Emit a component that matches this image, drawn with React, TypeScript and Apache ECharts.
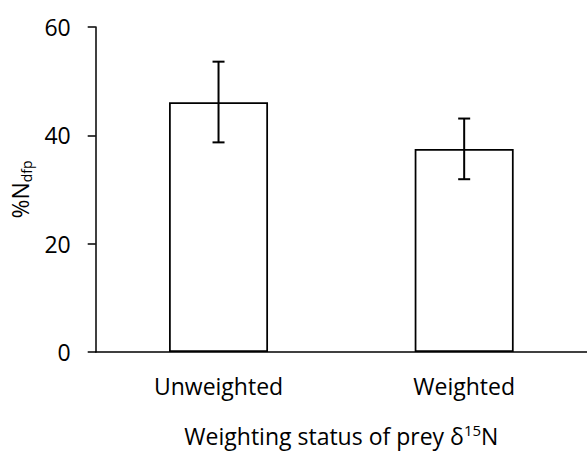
import React, { useEffect, useRef } from "react";
import * as echarts from "echarts";

const categories = ["Unweighted", "Weighted"];
const means = [46.1, 37.5];
const errLow = [38.7, 31.9];
const errHigh = [53.6, 43.1];
const yTicks = { min: 0, max: 60, interval: 20 };

const FONT = "'Open Sans', sans-serif";

export default function App() {
  const ref = useRef<HTMLDivElement>(null);
  useEffect(() => {
    if (!ref.current) return;
    const chart = echarts.init(ref.current, null, { renderer: "svg" });
    const errData = categories.map((_, i) => [i, errLow[i], errHigh[i]]);
    chart.setOption({
      animation: false,
      backgroundColor: "#fff",
      grid: { left: 90, top: 27, width: 500, height: 328 },
      xAxis: {
        type: "category",
        data: categories,
        axisLine: { show: true, lineStyle: { color: "#000", width: 1.5 } },
        axisTick: { show: false },
        axisLabel: { color: "#000", fontSize: 23, fontFamily: FONT, margin: 22 },
        name: "{a|Weighting status of prey δ}{sup|15}{a|N}",
        nameLocation: "middle",
        nameGap: 70,
        nameTextStyle: {
          rich: {
            a: { fontSize: 23, fontFamily: FONT, color: "#000", lineHeight: 27 },
            sup: { fontSize: 15, fontFamily: FONT, color: "#000", verticalAlign: "top", lineHeight: 27 },
          },
        },
      },
      yAxis: {
        type: "value",
        min: yTicks.min,
        max: yTicks.max,
        interval: yTicks.interval,
        splitLine: { show: false },
        axisLine: { show: true, lineStyle: { color: "#000", width: 1.5 } },
        axisTick: { show: true, inside: false, length: 8, lineStyle: { color: "#000", width: 1.5 } },
        axisLabel: { color: "#000", fontSize: 23, fontFamily: FONT, margin: 25 },
        name: "{n|%N}{sub|dfp}",
        nameLocation: "middle",
        nameRotate: 90,
        nameGap: 50,
        nameTextStyle: {
          rich: {
            n: { fontSize: 23, fontFamily: FONT, color: "#000", lineHeight: 28 },
            sub: { fontSize: 14, fontFamily: FONT, color: "#000", verticalAlign: "bottom", lineHeight: 28 },
          },
        },
      },
      series: [
        {
          type: "bar",
          data: means,
          barWidth: 99,
          itemStyle: { color: "#fff", borderColor: "#000", borderWidth: 1.75 },
        },
        {
          type: "custom",
          data: errData,
          z: 10,
          renderItem: (params: any, api: any) => {
            const x = api.value(0);
            const lo = api.coord([x, api.value(1)]);
            const hi = api.coord([x, api.value(2)]);
            const cap = 6;
            const style = { stroke: "#000", lineWidth: 2 };
            return {
              type: "group",
              children: [
                { type: "line", shape: { x1: lo[0], y1: lo[1], x2: hi[0], y2: hi[1] }, style },
                { type: "line", shape: { x1: hi[0] - cap, y1: hi[1], x2: hi[0] + cap, y2: hi[1] }, style },
                { type: "line", shape: { x1: lo[0] - cap, y1: lo[1], x2: lo[0] + cap, y2: lo[1] }, style },
              ],
            };
          },
        },
      ],
    });
    return () => chart.dispose();
  }, []);
  return (
    <div
      ref={ref}
      style={{ position: "fixed", left: 0, top: 0, width: 587, height: 452 }}
    />
  );
}
